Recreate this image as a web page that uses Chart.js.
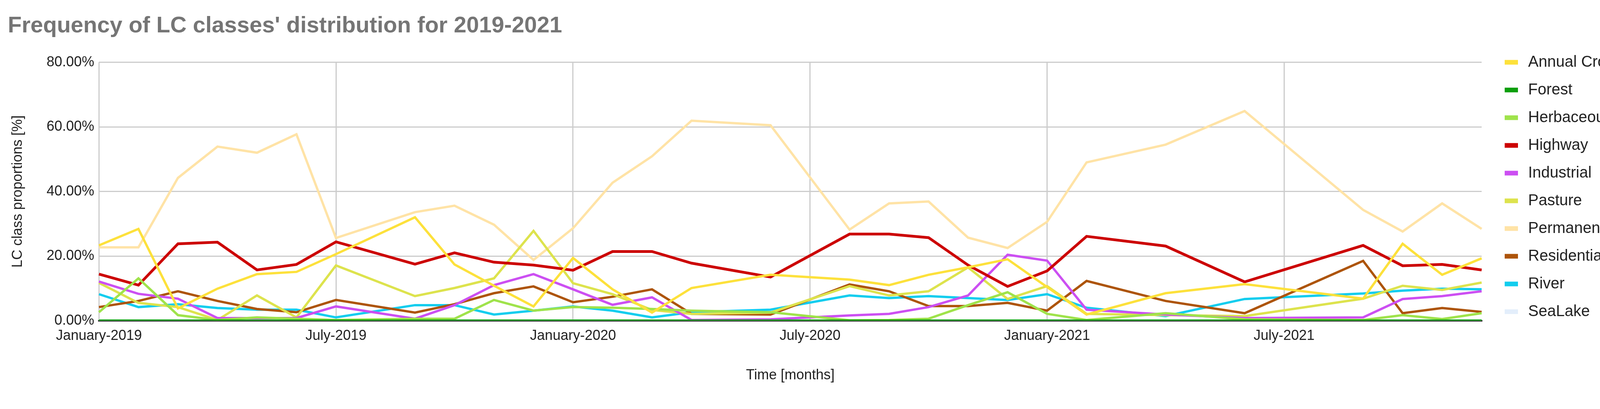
<!DOCTYPE html>
<html><head><meta charset="utf-8">
<script src="https://cdn.jsdelivr.net/npm/chart.js@4"></script>
<style>html,body{margin:0;padding:0;background:#fff}#wrap{width:4326px;height:1048px}</style>
</head><body><div id="wrap"><canvas id="c"></canvas></div>
<script>
const monthNames = ['January','February','March','April','May','June','July','August','September','October','November','December'];
const months = [];
for (const y of [2019, 2020, 2021]) for (const m of monthNames) months.push(m + '-' + y);
// indices (into months) of the observed samples
const sampleIdx = [0,1,2,3,4,5,6, 8,9,10,11,12,13,14,15, 17, 19,20,21,22,23,24,25, 27, 29, 32,33,34,35];

const annualCrop = [23.3,28.4,3.8,9.9,14.4,15.1,20.6, 32.0,17.4,10.8,4.4,19.4,9.7,2.5,10.1, 14.2, 12.7,11.0,14.2,16.5,19.0,10.4,1.9, 8.5, 11.3, 6.8,23.8,14.2,19.3];
const forest = [0,0,0,0,0,0,0, 0,0,0,0,0,0,0,0, 0, 0,0,0,0,0,0,0, 0, 0, 0,0,0,0];
const herbaceous = [2.6,13.1,1.7,0.2,1.0,0.6,0.2, 0.6,0.6,6.4,3.1,4.2,4.0,3.6,3.1, 2.6, 0.1,0.2,0.6,4.8,8.8,2.1,0.2, 2.3, 0.4, 0.2,1.7,0.5,2.3];
const highway = [14.4,11.0,23.8,24.3,15.7,17.4,24.4, 17.5,21.0,18.1,17.2,15.6,21.4,21.4,17.8, 13.5, 26.8,26.8,25.7,17.2,10.6,15.4,26.1, 23.1, 12.0, 23.3,17.0,17.4,15.7];
const industrial = [12.1,8.3,6.8,0.8,0.8,0.8,4.4, 0.6,4.8,11.0,14.4,9.7,4.9,7.2,0.2, 0.4, 1.6,2.1,4.2,7.8,20.4,18.6,3.4, 1.9, 0.8, 1.0,6.7,7.6,9.1];
const pasture = [11.7,5.5,4.2,0.2,7.8,1.0,17.1, 7.6,10.1,13.1,27.8,11.6,8.2,3.3,2.1, 2.5, 10.7,7.8,9.1,16.5,6.7,10.7,2.1, 1.7, 1.4, 6.8,10.8,9.5,11.8];
const permanentCrop = [22.7,22.7,44.2,53.9,52.0,57.7,25.6, 33.6,35.6,29.7,18.8,28.6,42.7,50.9,61.9, 60.5, 28.2,36.3,36.9,25.7,22.5,30.6,49.0, 54.5, 64.9, 34.3,27.6,36.3,28.4];
const residential = [4.2,6.1,9.1,6.1,3.6,2.6,6.4, 2.5,5.1,8.5,10.6,5.7,7.4,9.7,2.1, 1.9, 11.2,9.1,4.5,4.5,5.5,3.1,12.3, 6.1, 2.3, 18.5,2.3,3.9,2.7];
const river = [8.2,4.2,5.1,3.9,3.4,3.4,1.0, 4.8,4.8,1.9,3.1,4.4,3.1,1.0,2.6, 3.4, 7.8,7.0,7.6,7.0,6.4,8.2,4.0, 1.4, 6.7, 8.4,9.3,9.9,9.7];
const seaLake = [0,0,0,0,0,0,0, 0,0,0,0,0,0,0,0, 0, 0,0,0,0,0,0,0, 0, 0, 0,0,0,0];

const seriesNames = ['Annual Crop','Forest','Herbaceous Vegetation','Highway','Industrial','Pasture','Permanent Crop','Residential','River','SeaLake'];
const seriesValues = [annualCrop,forest,herbaceous,highway,industrial,pasture,permanentCrop,residential,river,seaLake];
const seriesColors = ['#fde13b','#0d9e0d','#9fe34b','#cc0000','#cc4ff2','#dde34d','#ffe3a6','#ad5409','#12cdee','#e3eefb'];
const yTicks = [0,20,40,60,80];

function expand(vals){ const a = months.map(()=>null); sampleIdx.forEach((mi,i)=>a[mi]=vals[i]); return a; }

const F = 'Arial, "Liberation Sans", sans-serif';

const sideLegend = {
  id:'sideLegend',
  afterDraw(chart){
    const ctx = chart.ctx, ca = chart.chartArea;
    ctx.save();
    ctx.font = '40px ' + F;
    ctx.textBaseline = 'middle';
    ctx.textAlign = 'left';
    chart.data.datasets.forEach((ds,i)=>{
      const y = ca.top + i*71;
      const x = ca.right + 59;
      ctx.fillStyle = ds.borderColor;
      ctx.fillRect(x, y-6, 34, 12);
      ctx.fillStyle = '#222';
      ctx.fillText(ds.label, x + 60, y);
    });
    ctx.restore();
  }
};

new Chart(document.getElementById('c'), {
  type:'line',
  data:{labels:months, datasets: seriesNames.map((n,i)=>({label:n,data:expand(seriesValues[i]),borderColor:seriesColors[i],backgroundColor:seriesColors[i],borderWidth:n==='Highway'?7:6,pointRadius:0,spanGaps:true,tension:0}))},
  options:{
    responsive:true, maintainAspectRatio:false, animation:false, devicePixelRatio:1,
    layout:{padding:{left:20,right:533,top:10,bottom:60}},
    plugins:{
      title:{display:true,text:"Frequency of LC classes' distribution for 2019-2021",align:'start',color:'#757575',font:{family:F,size:58},padding:{top:22,bottom:58}},
      legend:{display:false},
      tooltip:{enabled:false}
    },
    scales:{
      x:{offset:false,
         grid:{color:(c)=>c.index%6===0?'#cccccc':'rgba(0,0,0,0)',lineWidth:3,drawTicks:false},
         border:{color:'#333',width:4},
         ticks:{autoSkip:false,maxRotation:0,padding:18,color:'#222',font:{family:F,size:36},callback:(v,i)=>i%6===0?months[i]:''},
         title:{display:true,text:'Time [months]',color:'#222',font:{family:F,size:36},padding:{top:40}}},
      y:{min:0,max:80,
         afterBuildTicks:(ax)=>{ax.ticks=yTicks.map(v=>({value:v}));},
         grid:{color:'#cccccc',lineWidth:3,drawTicks:false},
         border:{display:false},
         ticks:{padding:12,color:'#222',font:{family:F,size:36},callback:(v)=>v.toFixed(2)+'%'},
         title:{display:true,text:'LC class proportions [%]',color:'#222',font:{family:F,size:36},padding:{bottom:40}}}
    }
  },
  plugins:[sideLegend]
});
</script></body></html>
